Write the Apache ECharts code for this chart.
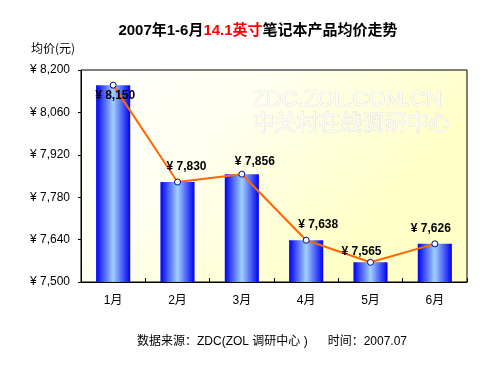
<!DOCTYPE html>
<html>
<head>
<meta charset="utf-8">
<script src="https://cdn.jsdelivr.net/npm/echarts@6/dist/echarts.min.js"></script>
<style>
html,body{margin:0;padding:0;background:#fff;}
#c{width:500px;height:375px;}
</style>
</head>
<body>
<div id="c"></div>
<script>
var categories = ['1月', '2月', '3月', '4月', '5月', '6月'];
var prices = [8150, 7830, 7856, 7638, 7565, 7626];
var labelOffsets = [[2, 11], [9, -15], [13, -12], [12, -16], [-9, -11], [-4, -15]];
var yMin = 7500, yMax = 8200, yStep = 140;

var FONT = '"Liberation Sans", Arial, "Noto Sans CJK SC", sans-serif';
var chart = echarts.init(document.getElementById('c'), null, {renderer: 'canvas'});

function fmt(v) {
  return '¥ ' + v.toLocaleString('en-US');
}

var option = {
  animation: false,
  backgroundColor: '#ffffff',
  textStyle: {fontFamily: FONT},
  grid: {
    left: 81, right: 33, top: 70, bottom: 93,
    show: true,
    borderColor: '#000000',
    borderWidth: 1,
    backgroundColor: new echarts.graphic.LinearGradient(0, 0, 0.6, 1, [
      {offset: 0, color: '#ffffff'},
      {offset: 0.45, color: '#fffff0'},
      {offset: 1, color: '#ffffc8'}
    ])
  },
  graphic: [
    {
      type: 'text', left: 252, top: 89, z: 1, silent: true,
      style: {
        text: 'ZDC.ZOL.COM.CN', font: '22px "Liberation Sans", Arial, sans-serif',
        fill: '#fdfdf6', stroke: '#d6d6d6', lineWidth: 0.7
      }
    },
    {
      type: 'text', left: 252, top: 110, z: 1, silent: true,
      style: {
        text: '中关村在线调研中心', font: '22px "Noto Sans CJK SC", sans-serif',
        fill: '#fdfdf6', stroke: '#d6d6d6', lineWidth: 0.7
      }
    },
    {
      type: 'text', x: 258, y: 31, silent: true,
      style: {
        text: '{a|2007年1-6月}{r|14.1英寸}{a|笔记本产品均价走势}',
        align: 'center', verticalAlign: 'middle',
        rich: {
          a: {fontSize: 15, fontWeight: 'bold', fill: '#000000', fontFamily: FONT},
          r: {fontSize: 15, fontWeight: 'bold', fill: '#ff0000', fontFamily: FONT}
        }
      }
    },
    {
      type: 'text', x: 53, y: 48, silent: true,
      style: {
        text: '均价(元)', align: 'center', verticalAlign: 'middle',
        font: '12px "Noto Sans CJK SC", sans-serif', fill: '#000000'
      }
    },
    {
      type: 'text', x: 272, y: 342, silent: true,
      style: {
        text: '数据来源：ZDC(ZOL 调研中心 )      时间：2007.07',
        align: 'center', verticalAlign: 'middle',
        font: '12px "Liberation Sans", "Noto Sans CJK SC", sans-serif', fill: '#000000'
      }
    }
  ],
  xAxis: {
    type: 'category',
    data: categories,
    boundaryGap: true,
    axisLine: {show: true, lineStyle: {color: '#000000', width: 1}},
    axisTick: {show: true, inside: true, length: 4, lineStyle: {color: '#000000'}},
    axisLabel: {color: '#000000', fontSize: 12, margin: 13, fontFamily: FONT},
    splitLine: {show: false}
  },
  yAxis: {
    type: 'value',
    min: yMin, max: yMax, interval: yStep,
    axisLine: {show: true, lineStyle: {color: '#000000', width: 1}},
    axisTick: {show: true, inside: false, length: 3, lineStyle: {color: '#000000'}},
    axisLabel: {color: '#000000', fontSize: 12, margin: 11, fontFamily: FONT, formatter: fmt},
    splitLine: {show: false}
  },
  series: [
    {
      type: 'bar',
      data: prices,
      barWidth: '53%',
      z: 2,
      itemStyle: {
        color: new echarts.graphic.LinearGradient(0, 0, 1, 0, [
          {offset: 0, color: '#0000f0'},
          {offset: 0.5, color: '#a0d0ff'},
          {offset: 1, color: '#0000f0'}
        ])
      }
    },
    {
      type: 'line',
      data: prices.map(function (v, i) {
        return {
          value: v,
          label: {offset: labelOffsets[i]}
        };
      }),
      z: 3,
      symbol: 'circle',
      symbolSize: 6,
      lineStyle: {color: '#ff6600', width: 2},
      itemStyle: {color: '#f0ffff', borderColor: '#000099', borderWidth: 1},
      label: {
        show: true,
        position: 'inside',
        formatter: function (p) { return fmt(p.value); },
        color: '#000000',
        fontSize: 12,
        fontWeight: 'bold',
        fontFamily: FONT
      }
    }
  ]
};
chart.setOption(option);
</script>
</body>
</html>
